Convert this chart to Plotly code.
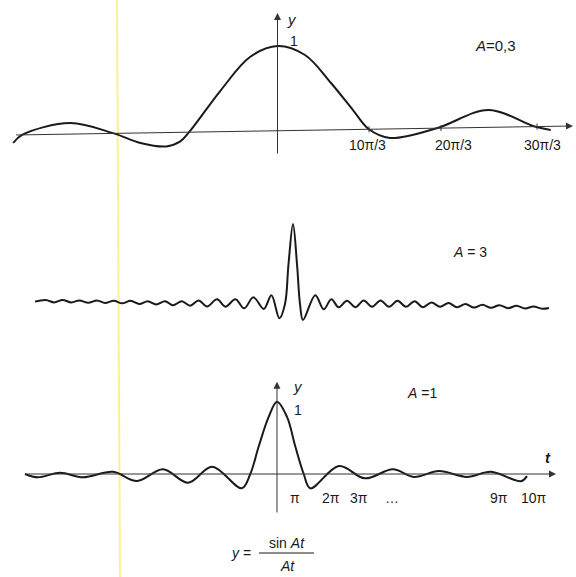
import plotly.graph_objects as go

# ---------- data ----------
# Panel 1: A = 0,3
t_a03 = [-29.7, -28.7, -23.3, -18.4, -15.4, -12.5, -10.96, -9.94, -6.35, -3.09, 0.0,
         3.09, 6.01, 8.48, 10.28, 12.64, 17.9, 23.7, 28.9, 30.7]
y_a03 = [-0.141, -0.046, 0.094, -0.028, -0.141, -0.182, -0.126, -0.014, 0.482, 0.871, 1.0,
         0.894, 0.565, 0.247, 0.02, -0.082, 0.033, 0.247, 0.052, 0.012]

# Panel 2: A = 3
t_a3 = [-32.25, -30.9, -29.85, -28.8, -27.7, -26.7, -25.6, -24.5, -23.5, -22.4, -21.35, -20.3,
        -19.2, -18.15, -17.1, -16.0, -15.0, -13.9, -12.85, -11.8, -10.75, -9.5, -8.45, -7.2,
        -6.1, -4.95, -3.65, -2.7, -1.7, -1.0, -0.56, 0.0, 0.5, 0.875, 1.25, 2.79, 3.84, 4.79,
        5.71, 6.75, 7.79, 8.84, 9.88, 10.94, 12.0, 13.06, 14.13, 15.19, 16.25, 17.31, 18.38,
        19.44, 20.5, 21.56, 22.63, 23.69, 24.75, 25.81, 26.88, 27.94, 29.0, 30.06, 31.13, 32.0]
y_a3 = [0.03, 0.05, 0.02, 0.05, 0.02, 0.045, 0.015, 0.045, 0.012, 0.04, 0.008, 0.04,
        0.0, 0.035, -0.005, 0.035, -0.015, 0.035, -0.022, 0.045, -0.03, 0.059, -0.033, 0.059,
        -0.054, 0.084, -0.0625, 0.11, -0.179, 0.0, 0.5, 1.0, 0.5, 0.0, -0.2, 0.11, -0.066, 0.059,
        -0.041, 0.041, -0.04, 0.045, -0.035, 0.045, -0.035, 0.04, -0.035, 0.035, -0.04, 0.02, -0.035,
        0.012, -0.04, 0.0, -0.045, -0.01, -0.048, -0.015, -0.052, -0.022, -0.056, -0.03, -0.06, -0.05]

# Panel 3: A = 1
t_a1 = [-31.5, -29.9, -27.1, -24.25, -20.5, -17.5, -14.25, -11.1, -8.1, -4.4, -3.34, -2.29, -1.04,
        0.0, 1.25, 2.29, 3.34, 4.16, 7.75, 11.0, 14.5, 17.1, 20.25, 23.75, 26.75, 30.5, 31.25]
y_a1 = [0.0, -0.046, 0.018, -0.046, 0.03, -0.097, 0.065, -0.12, 0.10, -0.198, 0.0, 0.38, 0.79,
        1.0, 0.79, 0.38, 0.0, -0.198, 0.11, -0.06, 0.065, -0.04, 0.04, -0.04, 0.03, -0.1, -0.03]

# tick labels
top_tick_pos = [10.28, 18.37, 29.16]
top_tick_lab_pos = [10.06, 19.8, 29.8]
top_tick_text = ["10π/3", "20π/3", "30π/3"]
bot_tick_pos = [2.29, 6.79, 10.21, 14.4, 27.75, 32.1]
bot_tick_text = ["π", "2π", "3π", "…", "9π", "10π"]

INK = "#1a1a1a"
FONT = "Liberation Sans"

fig = go.Figure()
line_style = dict(color=INK, width=2, shape="spline", smoothing=1.0)
fig.add_trace(go.Scatter(x=t_a03, y=y_a03, mode="lines", line=line_style, xaxis="x", yaxis="y",
                         hoverinfo="skip"))
fig.add_trace(go.Scatter(x=t_a3, y=y_a3, mode="lines", line=line_style,
                         xaxis="x2", yaxis="y2", hoverinfo="skip"))
fig.add_trace(go.Scatter(x=t_a1, y=y_a1, mode="lines", line=line_style, xaxis="x3", yaxis="y3",
                         hoverinfo="skip"))

ann = []
def arrow(xh, yh, xt, yt, xr, yr):
    ann.append(dict(x=xh, y=yh, ax=xt, ay=yt, xref=xr, yref=yr, axref=xr, ayref=yr,
                    showarrow=True, arrowhead=2, arrowsize=1.4, arrowwidth=1,
                    arrowcolor="#333", text=""))

def label(x, y, text, xr, yr, size=14):
    ann.append(dict(x=x, y=y, xref=xr, yref=yr, text=text, showarrow=False,
                    xanchor="center", yanchor="middle",
                    font=dict(family=FONT, size=size, color=INK)))

# Panel 1 axes
arrow(33.2, 0.059, -29.53, -0.047, "x", "y")
arrow(0.0, 1.388, 0.0, -0.282, "x", "y")
label(1.63, 1.306, "<i>y</i>", "x", "y", 15)
label(1.85, 1.06, "1", "x", "y", 14)
label(24.55, 1.01, "<i>A</i>=0,3", "x", "y", 15)
local_axis = [0.02, 0.034, 0.052]
shapes = []
for p, lp, txt, ya in zip(top_tick_pos, top_tick_lab_pos, top_tick_text, local_axis):
    shapes.append(dict(type="line", xref="x", yref="y", x0=p, x1=p, y0=ya - 0.035, y1=ya + 0.035,
                       line=dict(color="#333", width=1)))
    label(lp, -0.165, txt, "x", "y", 14)

# Panel 2
label(22.1, 0.65, "<i>A</i> = 3", "x2", "y2", 14)

# Panel 3 axes
arrow(34.875, 0.0, -31.5, 0.0, "x3", "y3")
arrow(0.0, 1.277, 0.0, -0.553, "x3", "y3")
label(2.6, 1.21, "<i>y</i>", "x3", "y3", 15)
label(2.6, 0.885, "1", "x3", "y3", 14)
label(33.9, 0.235, "<b><i>t</i></b>", "x3", "y3", 15)
label(18.1, 1.12, "<i>A</i> =1", "x3", "y3", 14)
for p, txt in zip(bot_tick_pos, bot_tick_text):
    label(p, -0.336, txt, "x3", "y3", 14)

# formula
W, H = 576, 577
def pp(px, py):
    return px / W, 1 - py / H
for (px, py, txt) in [(241, 553, "<i>y</i> ="), (287, 543, "sin <i>At</i>"), (287, 566, "<i>At</i>")]:
    fx, fy = pp(px, py)
    ann.append(dict(x=fx, y=fy, xref="paper", yref="paper", text=txt, showarrow=False,
                    xanchor="center", yanchor="middle",
                    font=dict(family=FONT, size=14, color=INK)))
x0, y0 = pp(259, 553)
x1, _ = pp(314, 553)
shapes.append(dict(type="line", xref="paper", yref="paper", x0=x0, x1=x1, y0=y0, y1=y0,
                   line=dict(color=INK, width=1)))
# faint yellow scan line
shapes.append(dict(type="line", xref="paper", yref="paper", x0=117 / W, x1=120 / W, y0=1, y1=0,
                   line=dict(color="rgba(250,240,140,0.9)", width=2), layer="below"))

hid = dict(visible=False, fixedrange=True)
fig.update_layout(
    width=W, height=H, margin=dict(l=0, r=0, t=0, b=0, pad=0),
    paper_bgcolor="white", plot_bgcolor="white", showlegend=False,
    xaxis=dict(hid, range=[-31.18, 33.54], domain=[0, 1]),
    yaxis=dict(hid, range=[-5.2471, 1.5412], domain=[0, 1]),
    xaxis2=dict(hid, range=[-36.625, 35.375], overlaying="x", anchor="y2"),
    yaxis2=dict(hid, range=[-3.4125, 3.8], overlaying="y", anchor="x2"),
    xaxis3=dict(hid, range=[-34.625, 37.375], overlaying="x", anchor="y3"),
    yaxis3=dict(hid, range=[-1.4246, 6.556], overlaying="y", anchor="x3"),
    annotations=ann, shapes=shapes,
)
fig.write_html("out.html", config={"displayModeBar": False},
               post_script="document.body.style.margin='0';document.body.style.overflow='hidden';")
